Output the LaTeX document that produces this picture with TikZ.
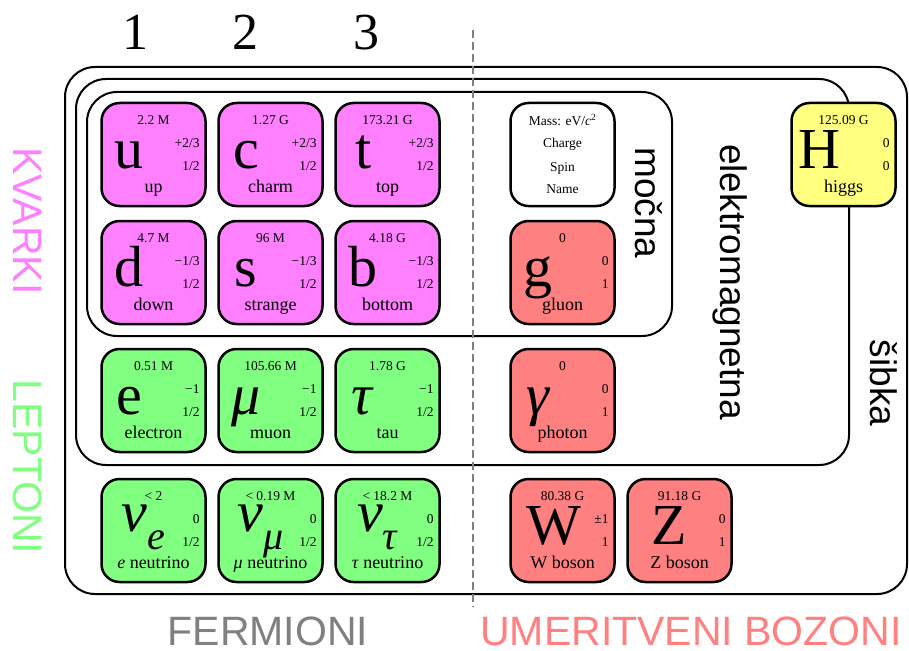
\documentclass[tikz,border=0pt]{standalone}
\usepackage{fontspec}
\setmainfont{Liberation Serif}
\newfontfamily\labelfont{Liberation Sans}
\definecolor{quarkpink}{RGB}{255,128,255}
\definecolor{leptongreen}{RGB}{128,255,128}
\definecolor{bosonred}{RGB}{255,128,128}
\definecolor{higgsyellow}{RGB}{255,255,128}
\definecolor{fermigrey}{RGB}{128,128,128}
% one card: [symbol offset]{name}{position}{colour}{mass}{symbol}{charge}{spin}{label}
\newcommand{\particle}[9][29]{%
  \node[card, fill=#4] (#2) at (#3) {};
  \node[mass] (#2-mass) at ([yshift=-23pt]#2.north) {#5};
  \node[symbol] (#2-sym) at ([xshift=#1pt, yshift=-67pt]#2.north west) {#6};
  \node[charge] (#2-charge) at ([xshift=-7pt, yshift=-46pt]#2.north east) {#7};
  \node[charge] (#2-spin) at ([xshift=-7pt, yshift=-69pt]#2.north east) {#8};
  \node[pname] (#2-name) at ([yshift=-91pt]#2.north) {#9};
}
\newcommand{\neutrino}[1]{\raisebox{13pt}{\textit{ν\raisebox{-0.3em}{\fontsize{40}{40}\selectfont #1}}}}

\begin{document}
\begin{tikzpicture}[x=1pt, y=-1pt,
    card/.style={draw, line width=2.5pt, rounded corners=18pt, minimum width=104pt,
                 minimum height=103pt, inner sep=0pt},
    frame/.style={draw, line width=2pt, rounded corners=30pt},
    mass/.style={font=\fontsize{13.5}{15}\selectfont, inner sep=0pt, anchor=base},
    symbol/.style={font=\fontsize{58}{58}\selectfont, inner sep=0pt, anchor=base},
    charge/.style={font=\fontsize{13.5}{15}\selectfont, inner sep=0pt, anchor=base east},
    pname/.style={font=\fontsize{18}{20}\selectfont, inner sep=0pt, anchor=base},
    force/.style={font=\labelfont\fontsize{37}{40}\selectfont, inner sep=0pt,
                  rotate=-90, anchor=base},
    group/.style={font=\labelfont\fontsize{41}{44}\selectfont, inner sep=0pt, anchor=base},
    gen/.style={font=\fontsize{52}{56}\selectfont, inner sep=0pt, anchor=base}]
  \useasboundingbox (0,0) rectangle (909,650);

  % interaction frames
  \draw[frame] (65,67) rectangle (907,594);
  \draw[frame] (76,79) rectangle (849,465);
  \draw[frame] (87,92) rectangle (672,336);
  \draw[fermigrey, line width=2pt, dash pattern=on 8pt off 4pt] (473,30) -- (473,607);

  % quarks
  \particle{up}{153.5,154.5}{quarkpink}{2.2 M}{u}{+2/3}{1/2}{up}
  \particle{charm}{270.5,154.5}{quarkpink}{1.27 G}{c}{+2/3}{1/2}{charm}
  \particle{top}{387.5,154.5}{quarkpink}{173.21 G}{t}{+2/3}{1/2}{top}
  \particle{down}{153.5,272.5}{quarkpink}{4.7 M}{d}{−1/3}{1/2}{down}
  \particle{strange}{270.5,272.5}{quarkpink}{96 M}{s}{−1/3}{1/2}{strange}
  \particle{bottom}{387.5,272.5}{quarkpink}{4.18 G}{b}{−1/3}{1/2}{bottom}

  % leptons
  \particle{electron}{153.5,400.5}{leptongreen}{0.51 M}{e}{−1}{1/2}{electron}
  \particle{muon}{270.5,400.5}{leptongreen}{105.66 M}{\textit{μ}}{−1}{1/2}{muon}
  \particle{tau}{387.5,400.5}{leptongreen}{1.78 G}{\textit{τ}}{−1}{1/2}{tau}
  \particle[43]{nue}{153.5,530.5}{leptongreen}{< 2}{\neutrino{e}}{0}{1/2}{\textit{e} neutrino}
  \particle[43]{numu}{270.5,530.5}{leptongreen}{< 0.19 M}{\neutrino{μ}}{0}{1/2}{\textit{μ} neutrino}
  \particle[43]{nutau}{387.5,530.5}{leptongreen}{< 18.2 M}{\neutrino{τ}}{0}{1/2}{\textit{τ} neutrino}

  % legend card
  \node[card, fill=white] (legend) at (562.5,154.5) {};
  \node[mass] (legend-mass) at ([yshift=-24pt]legend.north) {Mass: eV/\textit{c}\textsuperscript{2}};
  \node[mass] (legend-charge) at ([yshift=-46pt]legend.north) {Charge};
  \node[mass] (legend-spin) at ([yshift=-70pt]legend.north) {Spin};
  \node[mass] (legend-name) at ([yshift=-92pt]legend.north) {Name};

  % gauge bosons and higgs
  \particle{gluon}{562.5,272.5}{bosonred}{0}{g}{0}{1}{gluon}
  \particle{photon}{562.5,400.5}{bosonred}{0}{\textit{γ}}{0}{1}{photon}
  \particle[45]{wboson}{562.5,530.5}{bosonred}{80.38 G}{W}{±1}{1}{W boson}
  \particle[43]{zboson}{679.5,530.5}{bosonred}{91.18 G}{Z}{0}{1}{Z boson}
  \particle{higgs}{843.5,154.5}{higgsyellow}{125.09 G}{H}{0}{0}{higgs}

  % labels
  \node[force] (mocna) at (635,203) {močna};
  \node[force] (elektro) at (720,282) {elektromagnetna};
  \node[force] (sibka) at (870,383) {šibka};
  \node[group, rotate=-90, text=quarkpink] (kvarki) at (13,221) {KVARKI};
  \node[group, rotate=-90, text=leptongreen] (leptoni) at (13,467) {LEPTONI};
  \node[group, text=fermigrey] (fermioni) at (268,645) {FERMIONI};
  \node[group, text=bosonred] (bozoni) at (691,645) {UMERITVENI BOZONI};
  \node[gen] (gen1) at (135,50) {1};
  \node[gen] (gen2) at (245,50) {2};
  \node[gen] (gen3) at (366,50) {3};
\end{tikzpicture}
\end{document}
